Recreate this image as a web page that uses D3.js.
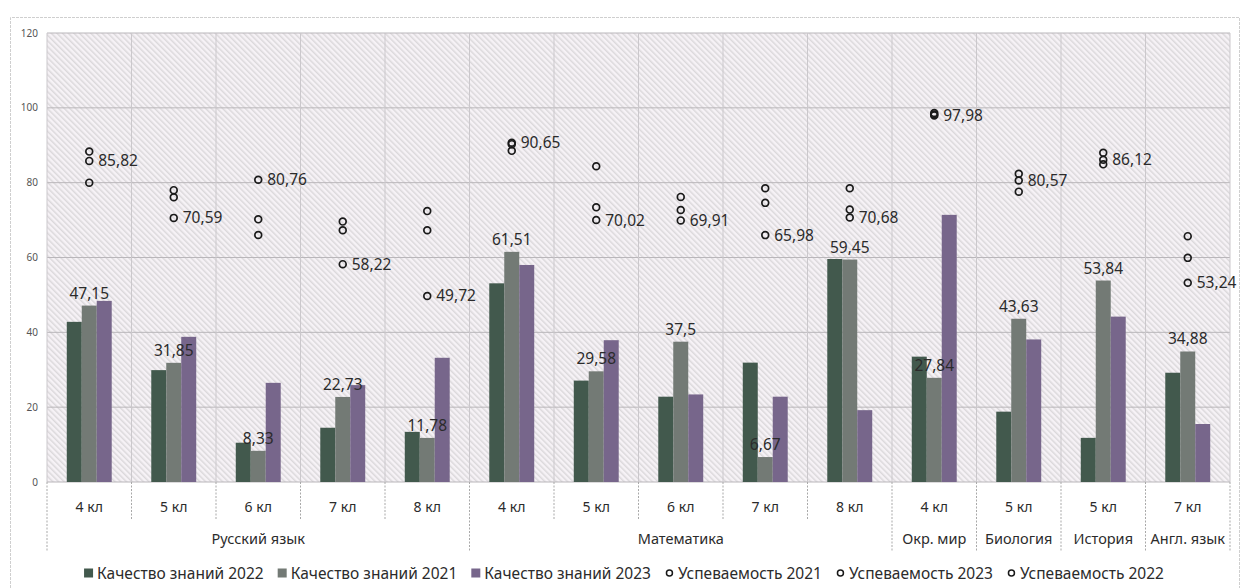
<!DOCTYPE html>
<html>
<head>
<meta charset="utf-8">
<script src="https://cdn.jsdelivr.net/npm/d3@7"></script>
<style>
  body { margin: 0; background: #fff; }
  text { font-family: "Noto Sans", sans-serif; }
</style>
</head>
<body>
<div id="chart"></div>
<script>
const width = 1243, height = 588;
const margin = { top: 33, right: 13, bottom: 106, left: 47 };

// categories (grade) and their subject groups
const grades = ["4 кл", "5 кл", "6 кл", "7 кл", "8 кл", "4 кл", "5 кл", "6 кл", "7 кл", "8 кл", "4 кл", "5 кл", "5 кл", "7 кл"];
const subjects = ["Русский язык", "Русский язык", "Русский язык", "Русский язык", "Русский язык",
  "Математика", "Математика", "Математика", "Математика", "Математика",
  "Окр. мир", "Биология", "История", "Англ. язык"];

// bars
const quality2022 = [42.8, 29.9, 10.5, 14.5, 13.4, 53.1, 27.1, 22.8, 31.9, 59.6, 33.5, 18.8, 11.8, 29.2];
const quality2021 = [47.15, 31.85, 8.33, 22.73, 11.78, 61.51, 29.58, 37.5, 6.67, 59.45, 27.84, 43.63, 53.84, 34.88];
const quality2023 = [48.4, 38.8, 26.5, 25.9, 33.2, 58.0, 37.9, 23.4, 22.8, 19.2, 71.4, 38.1, 44.2, 15.5];

// points
const success2021 = [85.82, 70.59, 80.76, 58.22, 49.72, 90.65, 70.02, 69.91, 65.98, 70.68, 97.98, 80.57, 86.12, 53.24];
const success2023 = [88.3, 78.0, 70.2, 69.6, 72.4, 88.5, 84.4, 76.2, 78.5, 78.5, 98.6, 82.4, 88.0, 65.7];
const success2022 = [80.0, 76.1, 66.0, 67.3, 67.3, 90.3, 73.4, 72.7, 74.6, 72.8, 98.2, 77.6, 84.9, 59.9];

const yTicks = [0, 20, 40, 60, 80, 100, 120];

const barSeries = [
  { name: "Качество знаний 2022", values: quality2022, color: "#42594d" },
  { name: "Качество знаний 2021", values: quality2021, color: "#737a75" },
  { name: "Качество знаний 2023", values: quality2023, color: "#77668b" }
];
const pointSeries = [
  { name: "Успеваемость 2021", values: success2021 },
  { name: "Успеваемость 2023", values: success2023 },
  { name: "Успеваемость 2022", values: success2022 }
];

const innerWidth = width - margin.left - margin.right;
const innerHeight = height - margin.top - margin.bottom;

const svg = d3.select("#chart")
  .append("svg")
    .attr("width", width)
    .attr("height", height);

// hatch background of the plot area
const defs = svg.append("defs");
const hatch = defs.append("pattern")
    .attr("id", "hatch")
    .attr("patternUnits", "userSpaceOnUse")
    .attr("width", 4)
    .attr("height", 4)
    .attr("patternTransform", "rotate(-45)");
hatch.append("rect")
    .attr("width", 4).attr("height", 4)
    .attr("fill", "#f6f2f6");
hatch.append("rect")
    .attr("width", 1.5).attr("height", 4)
    .attr("fill", "#dbd8db");

// outer chart border (top, left, right)
svg.append("path")
    .attr("d", "M10.5,588 V17.5 H1239.5 V588")
    .attr("fill", "none")
    .attr("stroke", "#cfcfcf")
    .attr("stroke-dasharray", "3,1");

const idx = d3.range(grades.length);

const x0 = d3.scaleBand()
    .domain(idx)
    .range([margin.left, margin.left + innerWidth])
    .padding(0);

const x1 = d3.scaleBand()
    .domain(d3.range(barSeries.length))
    .range([0, x0.bandwidth()])
    .paddingInner(0)
    .paddingOuter(1.32);

const y = d3.scaleLinear()
    .domain([0, 120])
    .range([margin.top + innerHeight, margin.top]);

const plot = svg.append("g");

plot.append("rect")
    .attr("x", margin.left)
    .attr("y", margin.top)
    .attr("width", innerWidth)
    .attr("height", innerHeight)
    .attr("fill", "url(#hatch)");

// horizontal gridlines
plot.append("g")
  .selectAll("line")
  .data(yTicks)
  .join("line")
    .attr("x1", margin.left)
    .attr("x2", margin.left + innerWidth)
    .attr("y1", d => y(d))
    .attr("y2", d => y(d))
    .attr("stroke", "#b9b6ba")
    .attr("stroke-width", 1);

// vertical gridlines at category borders
const edgeX = i => margin.left + i * x0.step();
plot.append("g")
  .selectAll("line")
  .data(d3.range(grades.length + 1))
  .join("line")
    .attr("x1", edgeX)
    .attr("x2", edgeX)
    .attr("y1", y(120))
    .attr("y2", y(0))
    .attr("stroke", "#cbc8cc")
    .attr("stroke-width", 1);

// bars
barSeries.forEach((s, si) => {
  plot.append("g")
    .selectAll("rect")
    .data(s.values)
    .join("rect")
      .attr("x", (d, i) => x0(i) + x1(si))
      .attr("y", d => y(d))
      .attr("width", x1.bandwidth())
      .attr("height", d => y(0) - y(d))
      .attr("fill", s.color);
});

// bar labels (2021)
plot.append("g")
  .selectAll("text")
  .data(quality2021)
  .join("text")
    .attr("x", (d, i) => x0(i) + x1(1) + x1.bandwidth() / 2)
    .attr("y", d => y(d) - 7)
    .attr("text-anchor", "middle")
    .attr("fill", "#2b2b2b")
    .style("font-size", "15.5px")
    .text(d => String(d).replace(".", ","));

// points
pointSeries.forEach(s => {
  plot.append("g")
    .selectAll("circle")
    .data(s.values)
    .join("circle")
      .attr("cx", (d, i) => x0(i) + x0.bandwidth() / 2)
      .attr("cy", d => y(d))
      .attr("r", 3.4)
      .attr("fill", "none")
      .attr("stroke", "#1a1a1a")
      .attr("stroke-width", 1.7);
});

// point labels (2021)
plot.append("g")
  .selectAll("text")
  .data(success2021)
  .join("text")
    .attr("x", (d, i) => x0(i) + x0.bandwidth() / 2 + 9)
    .attr("y", d => y(d) + 5.5)
    .attr("fill", "#2b2b2b")
    .style("font-size", "15.5px")
    .text(d => String(d).replace(".", ","));

// axes, outside the plot group
const axes = svg.append("g");

axes.append("g")
  .selectAll("text")
  .data(yTicks)
  .join("text")
    .attr("x", margin.left - 9)
    .attr("y", d => y(d) + 3.5)
    .attr("text-anchor", "end")
    .attr("fill", "#555")
    .style("font-size", "10px")
    .text(d => d);

// category separators below the axis
const isGroupEdge = i => i === 0 || i === grades.length || subjects[i] !== subjects[i - 1];
axes.append("g")
  .selectAll("line")
  .data(d3.range(grades.length + 1))
  .join("line")
    .attr("x1", edgeX)
    .attr("x2", edgeX)
    .attr("y1", y(0))
    .attr("y2", d => y(0) + (isGroupEdge(d) ? 70 : 38))
    .attr("stroke", "#a9a9a9")
    .attr("stroke-dasharray", "2,1.5");

axes.append("g")
  .selectAll("text")
  .data(grades)
  .join("text")
    .attr("x", (d, i) => x0(i) + x0.bandwidth() / 2)
    .attr("y", y(0) + 30)
    .attr("text-anchor", "middle")
    .attr("fill", "#2b2b2b")
    .style("font-size", "14px")
    .text(d => d);

const groups = [];
subjects.forEach((s, i) => {
  if (i === 0 || s !== subjects[i - 1]) groups.push({ name: s, start: i, end: i });
  else groups[groups.length - 1].end = i;
});
axes.append("g")
  .selectAll("text")
  .data(groups)
  .join("text")
    .attr("x", d => (x0(d.start) + x0(d.end) + x0.bandwidth()) / 2)
    .attr("y", y(0) + 62)
    .attr("text-anchor", "middle")
    .attr("fill", "#2b2b2b")
    .style("font-size", "14.5px")
    .text(d => d.name);

// legend
const legendItems = barSeries.map(s => ({ name: s.name, type: "bar", color: s.color }))
  .concat(pointSeries.map(s => ({ name: s.name, type: "point" })));
const legend = svg.append("g");
const legendY = 573;
let cursor = 0;
const items = legend.selectAll("g")
  .data(legendItems)
  .join("g");
items.each(function (d) {
  const item = d3.select(this);
  if (d.type === "bar") {
    item.append("rect")
      .attr("x", 0).attr("y", -4.5)
      .attr("width", 9).attr("height", 9)
      .attr("fill", d.color);
  } else {
    item.append("circle")
      .attr("cx", 4.5).attr("cy", 0)
      .attr("r", 3)
      .attr("fill", "none")
      .attr("stroke", "#1a1a1a")
      .attr("stroke-width", 1.5);
  }
  const t = item.append("text")
    .attr("x", 13)
    .attr("y", 5.5)
    .attr("fill", "#2b2b2b")
    .style("font-size", "15.5px")
    .text(d.name);
  d.w = 13 + t.node().getComputedTextLength();
});
const gap = 14;
const total = d3.sum(legendItems, d => d.w) + gap * (legendItems.length - 1);
cursor = 624 - total / 2;
items.attr("transform", d => {
  const tr = `translate(${cursor}, ${legendY})`;
  cursor += d.w + gap;
  return tr;
});
</script>
</body>
</html>
